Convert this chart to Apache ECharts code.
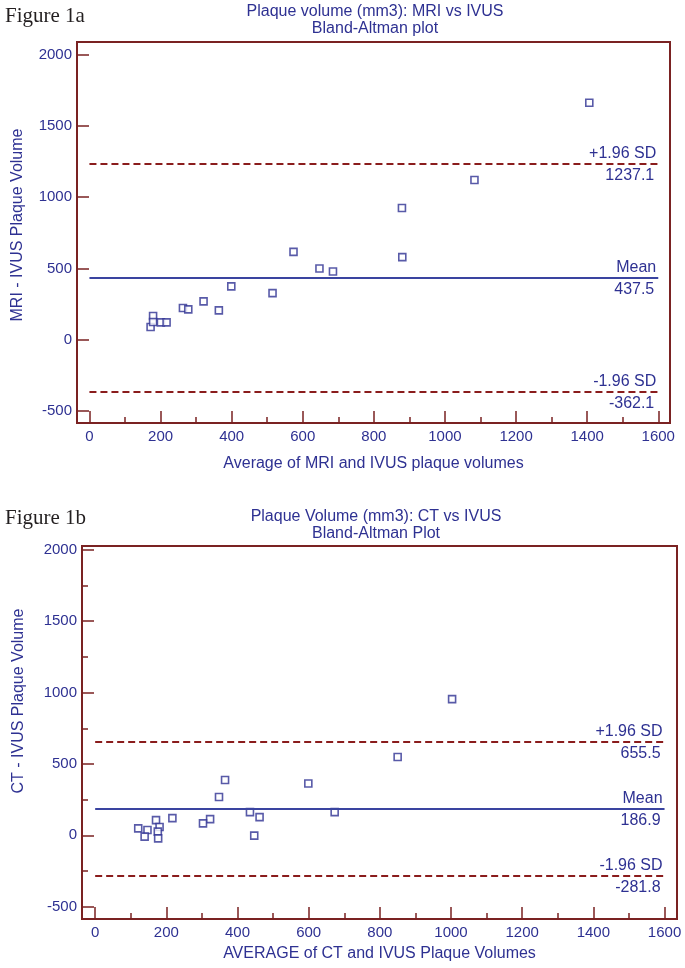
<!DOCTYPE html>
<html>
<head>
<meta charset="utf-8">
<script src="https://cdn.jsdelivr.net/npm/echarts@6/dist/echarts.min.js"></script>
<style>
html,body{margin:0;padding:0;background:#fff;}
#main{width:685px;height:968px;}
</style>
</head>
<body>
<div id="main"></div>
<script>
// ---- data ----
const xMajorTicks = [0, 200, 400, 600, 800, 1000, 1200, 1400, 1600];
const xMinorTicks = [100, 300, 500, 700, 900, 1100, 1300, 1500];
const yMajorTicks = [-500, 0, 500, 1000, 1500, 2000];
const yMinorTicksB = [-250, 250, 750, 1250, 1750];

const mriAvg  = [172, 179, 179, 201, 217, 263, 278, 321, 364, 399, 515, 574, 647, 685, 879, 880, 1083, 1406];
const mriDiff = [89, 166, 124, 122, 122, 222, 213, 269, 206, 374, 327, 616, 500, 479, 924, 579, 1120, 1662];
const mriStats = { mean: 437.5, upper: 1237.1, lower: -362.1 };

const ctAvg  = [850, 1003, 365, 599, 348, 435, 673, 217, 462, 171, 323, 303, 181, 121, 147, 176, 139, 177, 447];
const ctDiff = [549, 954, 388, 363, 269, 163, 163, 121, 128, 107, 114, 84, 58, 49, 37, 26, -9, -21, -2];
const ctStats = { mean: 186.9, upper: 655.5, lower: -281.8 };

const lineSpan = [0, 1600];

// ---- styles ----
const NAVY = '#2e3192';
const RED = '#8a1c1c';
const BORDER = '#7a2222';
const FONT = '"Liberation Sans", Arial, sans-serif';
const TICK_FS = 15;
const TEXT_FS = 16;

function pairs(xs, ys) { return xs.map((x, i) => [x, ys[i]]); }

function statLines(stats) {
  const items = [];
  const defs = [
    { v: stats.upper, top: '+1.96 SD', color: RED, type: [7, 4] },
    { v: stats.mean, top: 'Mean', color: '#3a44a0', type: 'solid' },
    { v: stats.lower, top: '-1.96 SD', color: RED, type: [7, 4] }
  ];
  defs.forEach(d => {
    items.push([
      { coord: [lineSpan[0], d.v], lineStyle: { color: d.color, width: 2, type: d.type },
        label: { show: true, position: 'insideEndTop', formatter: d.top, color: NAVY, fontSize: TEXT_FS, fontFamily: FONT, distance: 2 } },
      { coord: [lineSpan[1], d.v] }
    ]);
    items.push([
      { coord: [lineSpan[0], d.v + 0.001], lineStyle: { color: 'rgba(0,0,0,0)', width: 0 },
        label: { show: true, position: 'insideEndBottom', formatter: String(d.v), color: NAVY, fontSize: TEXT_FS, fontFamily: FONT, distance: 4 } },
      { coord: [lineSpan[1], d.v + 0.001] }
    ]);
  });
  return items;
}

const plainNum = v => String(v);

function xAxes(gridIndex, min, max, name, nameGap) {
  return [
    {
      gridIndex, type: 'value', min, max, position: 'bottom',
      name, nameLocation: 'middle', nameGap,
      nameTextStyle: { color: NAVY, fontSize: TEXT_FS, fontFamily: FONT },
      axisLine: { show: true, onZero: false, lineStyle: { color: BORDER, width: 2 } },
      axisTick: { show: true, inside: true, length: 12, customValues: xMajorTicks, lineStyle: { color: BORDER, width: 1.5 } },
      axisLabel: { show: true, customValues: xMajorTicks, formatter: plainNum, color: NAVY, fontSize: TICK_FS, fontFamily: FONT, margin: 6 },
      splitLine: { show: false }
    },
    {
      gridIndex, type: 'value', min, max, position: 'bottom',
      axisLine: { show: false, onZero: false },
      axisTick: { show: true, inside: true, length: 6, customValues: xMinorTicks, lineStyle: { color: BORDER, width: 1.5 } },
      axisLabel: { show: false },
      splitLine: { show: false }
    }
  ];
}

function yAxisMajor(gridIndex, min, max) {
  return {
    gridIndex, type: 'value', min, max, position: 'left',
    axisLine: { show: true, onZero: false, lineStyle: { color: BORDER, width: 2 } },
    axisTick: { show: true, inside: true, length: 12, customValues: yMajorTicks, lineStyle: { color: BORDER, width: 1.5 } },
    axisLabel: { show: true, customValues: yMajorTicks, formatter: plainNum, color: NAVY, fontSize: TICK_FS, fontFamily: FONT, margin: 5 },
    splitLine: { show: false }
  };
}

function titleText(x, y, text) {
  return { type: 'text', x, y, style: { text, font: TEXT_FS + 'px ' + FONT, fill: NAVY, align: 'center', verticalAlign: 'middle' } };
}
function vText(x, y, text) {
  return { type: 'text', x, y, rotation: Math.PI / 2, style: { text, font: TEXT_FS + 'px ' + FONT, fill: NAVY, align: 'center', verticalAlign: 'middle' } };
}

const chart = echarts.init(document.getElementById('main'), null, { renderer: 'canvas' });

const option = {
  backgroundColor: '#ffffff',
  animation: false,
  graphic: [
    { type: 'text', left: 5, top: 6, style: { text: 'Figure 1a', font: '21px "Liberation Serif", serif', fill: '#231f20' } },
    titleText(375, 12, 'Plaque volume (mm3): MRI vs IVUS'),
    titleText(375, 29, 'Bland-Altman plot'),
    vText(18, 225, 'MRI - IVUS Plaque Volume'),
    { type: 'text', left: 5, top: 508, style: { text: 'Figure 1b', font: '21px "Liberation Serif", serif', fill: '#231f20' } },
    titleText(376, 517, 'Plaque Volume (mm3): CT vs IVUS'),
    titleText(376, 534, 'Bland-Altman Plot'),
    vText(19, 701, 'CT - IVUS Plaque Volume')
  ],
  grid: [
    { left: 77, right: 15, top: 42, bottom: 545, show: true, borderColor: BORDER, borderWidth: 2, backgroundColor: 'transparent' },
    { left: 82, right: 8, top: 546, bottom: 49, show: true, borderColor: BORDER, borderWidth: 2, backgroundColor: 'transparent' }
  ],
  xAxis: [
    ...xAxes(0, -35, 1633, 'Average of MRI and IVUS plaque volumes', 33),
    ...xAxes(1, -37, 1635, 'AVERAGE of CT and IVUS Plaque Volumes', 27)
  ],
  yAxis: [
    yAxisMajor(0, -584, 2088),
    yAxisMajor(1, -586, 2027),
    {
      gridIndex: 1, type: 'value', min: -586, max: 2027, position: 'left',
      axisLine: { show: false, onZero: false },
      axisTick: { show: true, inside: true, length: 6, customValues: yMinorTicksB, lineStyle: { color: BORDER, width: 1.5 } },
      axisLabel: { show: false },
      splitLine: { show: false }
    }
  ],
  series: [
    {
      type: 'scatter', xAxisIndex: 0, yAxisIndex: 0,
      data: pairs(mriAvg, mriDiff),
      symbol: 'rect', symbolSize: 7,
      itemStyle: { color: '#ffffff', borderColor: NAVY, borderWidth: 1.6 },
      markLine: { silent: true, symbol: 'none', data: statLines(mriStats) },
      z: 3
    },
    {
      type: 'scatter', xAxisIndex: 2, yAxisIndex: 1,
      data: pairs(ctAvg, ctDiff),
      symbol: 'rect', symbolSize: 7,
      itemStyle: { color: '#ffffff', borderColor: NAVY, borderWidth: 1.6 },
      markLine: { silent: true, symbol: 'none', data: statLines(ctStats) },
      z: 3
    }
  ]
};
chart.setOption(option);
</script>
</body>
</html>
